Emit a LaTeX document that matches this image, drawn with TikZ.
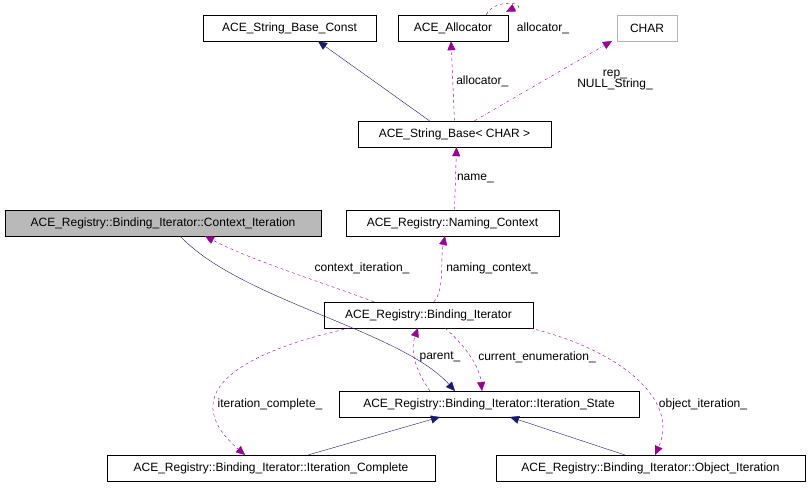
\documentclass[tikz,border=0pt]{standalone}
\usepackage{fontspec}
\setmainfont{Liberation Sans}
\usetikzlibrary{arrows.meta}
\begin{document}
\begin{tikzpicture}[x=1pt,y=-1pt,font=\fontsize{12}{14}\selectfont,
 box/.style={draw,inner sep=0pt,minimum height=26pt},
 inh/.style={draw=blue!40!black!90,-{Triangle[length=9pt,width=8pt]}},
 use/.style={draw=violet!80!magenta,dashed,-{Triangle[length=9pt,width=8pt]}},
 lab/.style={font=\fontsize{12}{14}\selectfont,align=center}]
\useasboundingbox (0,0) rectangle (811,500);
\def\bx#1#2#3#4#5#6{\node[box,minimum width=#3-#2,#6] (#1) at ({(#2+#3)/2},#4) {#5};}
\bx{sbc}{203}{376}{28}{ACE\_String\_Base\_Const}{}
\bx{alloc}{398}{508}{28}{ACE\_Allocator}{}
\bx{char}{617}{677}{28}{CHAR}{draw=gray!60}
\bx{sb}{358}{551}{134}{ACE\_String\_Base< CHAR >}{}
\bx{ci}{5}{321}{223}{ACE\_Registry::Binding\_Iterator::Context\_Iteration}{fill=gray!55}
\bx{nc}{346}{559}{223}{ACE\_Registry::Naming\_Context}{}
\bx{bi}{324}{533}{315}{ACE\_Registry::Binding\_Iterator}{}
\bx{is}{339}{639}{404}{ACE\_Registry::Binding\_Iterator::Iteration\_State}{}
\bx{ic}{107}{435}{468}{ACE\_Registry::Binding\_Iterator::Iteration\_Complete}{}
\bx{oi}{496}{805}{468}{ACE\_Registry::Binding\_Iterator::Object\_Iteration}{}

\draw[inh] (sb.north) ++(-25,0) -- (sbc.south -| 318,0);
\draw[use] (sb.north) ++(0,0) -- ([xshift=-2pt]alloc.south) node[lab,pos=0.5,right=0pt] {allocator\_};
\draw[use] (alloc.north east) ++(-22,0) .. controls +(10,-20) and +(30,-5) .. ([yshift=4pt]alloc.north east) -- ++(-2,1);
\node[lab] at (543,28) {allocator\_};
\draw[use,dash dot] ([xshift=20pt]sb.north) -- (612,41);
\node[lab] at (615,80) {rep\_\\[-3pt]NULL\_String\_};
\draw[use] (nc.north) ++(2,0) -- ([xshift=2pt]sb.south) node[lab,pos=0.5,right=-2pt] {name\_};
\draw[use] ([xshift=50pt]bi.north west) .. controls (330,285) and (250,260) .. (205,236);
\node[lab] at (362,268) {context\_iteration\_};
\draw[use] ([xshift=110pt]bi.north west) .. controls (445,290) and (440,260) .. (445,236);
\node[lab] at (492,268) {naming\_context\_};
\draw[inh] (180,236) .. controls (240,300) and (400,330) .. (455,391);
\draw[use] (430,391) .. controls (415,370) and (410,350) .. (418,328);
\node[lab] at (440,357) {parent\_};
\draw[use] (445,328) .. controls (470,350) and (480,370) .. (482,391);
\node[lab] at (537,357) {current\_enumeration\_};
\draw[use] (350,328) .. controls (250,350) and (170,390) .. (245,455);
\node[lab] at (270,404) {iteration\_complete\_};
\draw[use] (530,328) .. controls (620,350) and (680,400) .. (655,455);
\node[lab] at (703,404) {object\_iteration\_};
\draw[inh] (308,455) -- (440,417);
\draw[inh] (625,455) -- (510,417);
\end{tikzpicture}
\end{document}
